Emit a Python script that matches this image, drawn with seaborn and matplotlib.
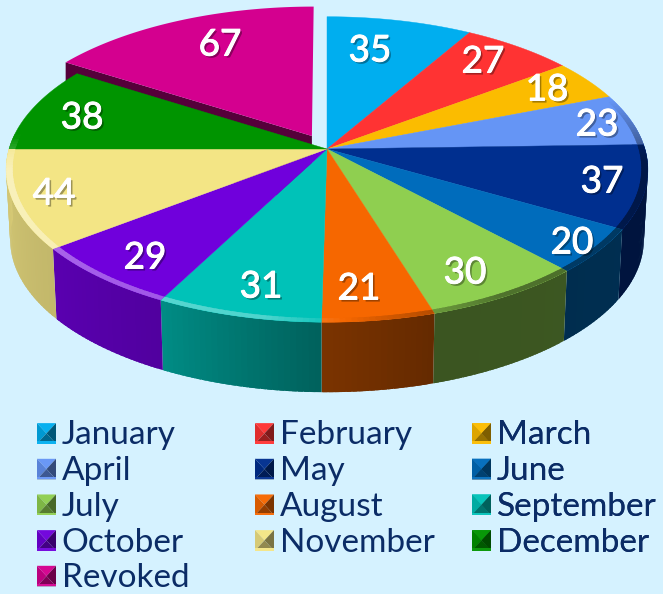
import numpy as np
import matplotlib
matplotlib.use("Agg")
import matplotlib.pyplot as plt
import matplotlib.patheffects as pe
from matplotlib.colors import to_rgb
from matplotlib.legend_handler import HandlerBase
from matplotlib.patches import Patch, Polygon
import seaborn as sns

months = ["January", "February", "March", "April", "May", "June", "July",
          "August", "September", "October", "November", "December", "Revoked"]
counts = [35, 27, 18, 23, 37, 20, 30, 21, 31, 29, 44, 38, 67]
hex_colors = ["#00AEEF", "#FF3333", "#FBBC00", "#6595F5", "#002F8F", "#006CBC", "#8FCF50",
              "#F66700", "#00C2B8", "#7000DC", "#F3E585", "#009400", "#D4008F"]

# where the value labels sit
label_x = [370, 483, 547, 597, 602, 572, 465, 359, 261, 145, 54, 82, 220]
label_y = [51, 62, 90, 125, 182, 243, 273, 289, 287, 258, 194, 118, 45]

BG = "#D5F2FF"
TEXT = "#0B2C66"
CX, CY = 327, 149
A, B, K = 318, 150, 0.134
DEPTH = 70
EXPLODE = 0.1

sns.set_theme(style="white", rc={"axes.facecolor": BG, "figure.facecolor": BG})
plt.rcParams["font.family"] = ["Lato", "DejaVu Sans"]
palette = sns.color_palette(hex_colors)


def project(theta, r=1.0, offset=0.0, mid=0.0, low=False):
    t = np.radians(theta)
    m = np.radians(mid)
    u = r * np.sin(t) + offset * np.sin(m)
    v = r * np.cos(t) + offset * np.cos(m)
    w = 1 + K * v
    if low:
        return CX + (A - 4) * u / w, CY + DEPTH + B * -v / w
    return CX + A * u / w, CY - B * v / w


def shade(color, f):
    # f>0 goes to white, f<0 to black
    c = np.array(to_rgb(color))
    if f >= 0:
        return tuple(c + (1 - c) * f)
    return tuple(c * (1 + f))


def side_light(theta):
    return np.interp(theta, [85, 137, 163, 181, 207, 232, 270],
                     [.45, .42, .41, .5, .72, .8, .88])


def rim_light(theta):
    return np.interp(theta, [70, 95, 150, 172, 190, 262, 275],
                     [0, -.5, -.45, -.12, .3, .45, 0])


class PyramidHandler(HandlerBase):
    def create_artists(self, legend, orig, xd, yd, width, height, fontsize, trans):
        c = orig.get_facecolor()
        x0, y0 = -xd, -yd - 0.02 * fontsize
        x1, y1 = x0 + width, y0 + height
        mx, my = (x0 + x1) / 2, (y0 + y1) / 2
        lip = height * 0.12
        parts = [
            ([(x0, y1), (x1, y1), (mx, my)], shade(c, 0.03)),
            ([(x0, y0), (x0, y1), (mx, my)], shade(c, -0.12)),
            ([(x1, y0), (x1, y1), (mx, my)], shade(c, -0.5)),
            ([(x0, y0), (x1, y0), (mx, my)], shade(c, -0.4)),
            ([(x0, y0), (x1, y0), (x1, y0 + lip), (x0, y0 + lip)], shade(c, 0.05)),
        ]
        return [Polygon(p, closed=True, facecolor=col, edgecolor="none", transform=trans)
                for p, col in parts]


fig = plt.figure(figsize=(6.63, 5.94), dpi=100)
ax = fig.add_axes([0, 0, 1, 1])
ax.set_xlim(0, 663)
ax.set_ylim(594, 0)
ax.axis("off")

edges = np.cumsum([0] + counts) / sum(counts) * 360

# pulled-out slice goes first, everything else covers it
t0, t1 = edges[-2], edges[-1]
mid = (t0 + t1) / 2
ax_, ay_ = project(0, 0, EXPLODE, mid)
ex, ey = project(t0, 1, EXPLODE, mid)
ax.fill([ex, ax_, ax_, ex], [ey, ay_, ay_ + DEPTH, ey + DEPTH], color="#55003A", lw=0)
ts = np.linspace(t0, t1, 80)
px, py = project(ts, 1, EXPLODE, mid)
ax.fill(np.r_[ax_, px], np.r_[ay_, py], color=palette[-1], lw=0)

# outer wall, each strip overlaps the next so no seams show
for i in range(12):
    lo, hi = max(edges[i], 80), min(edges[i + 1], 270)
    if hi <= lo:
        continue
    steps = np.linspace(lo, hi, int(hi - lo) + 2)
    for a, b in zip(steps[:-1], steps[1:]):
        bb = min(b + 0.8, hi)
        xa, ya = project(a)
        xb, yb = project(bb)
        xc, yc = project(bb, low=True)
        xd, yd = project(a, low=True)
        col = shade(palette[i], side_light((a + b) / 2) - 1)
        ax.fill([xa, xb, xc, xd], [ya, yb, yc, yd], facecolor=col, lw=0)

# top face
for i in range(12):
    ts = np.linspace(edges[i], edges[i + 1], 60)
    px, py = project(ts)
    ax.fill(np.r_[CX, px], np.r_[CY, py], facecolor=palette[i], edgecolor=palette[i], lw=0.3)

# bevel round the edge of the top
for i in range(12):
    lo, hi = edges[i], edges[i + 1]
    steps = np.linspace(lo, hi, int(hi - lo) + 2)
    for a, b in zip(steps[:-1], steps[1:]):
        f = rim_light((a + b) / 2)
        if f == 0:
            continue
        bb = min(b + 0.8, hi)
        xa, ya = project(a)
        xb, yb = project(bb)
        xc, yc = project(bb, 0.98)
        xd, yd = project(a, 0.98)
        ax.fill([xa, xb, xc, xd], [ya, yb, yc, yd], facecolor=shade(palette[i], f), lw=0)

shadow = [pe.SimplePatchShadow(offset=(1.5, -1.5), shadow_rgbFace="black", alpha=0.35),
          pe.withStroke(linewidth=0.7, foreground="white"),
          pe.Normal()]
for x, y, n in zip(label_x, label_y, counts):
    ax.text(x, y, str(n), color="white", fontsize=26.5, ha="center", va="center",
            path_effects=shadow)

# three separate one-column legends, the columns are evenly spaced in the original
handles = [Patch(facecolor=c, label=m) for c, m in zip(palette, months)]
col_x = [37, 255, 472]
for j, x in enumerate(col_x):
    group = handles[j::3]
    if j == 0:
        group = handles[0:12:3] + [handles[12]]
    leg = ax.legend(handles=group, loc="upper left", bbox_to_anchor=(x, 420.5),
                    bbox_transform=ax.transData, frameon=False, fontsize=24,
                    labelcolor=TEXT, handler_map={Patch: PyramidHandler()},
                    handlelength=0.57, handleheight=0.57, handletextpad=0.17,
                    labelspacing=0.17, borderpad=0, borderaxespad=0)
    ax.add_artist(leg)

fig.savefig("out.png", dpi=100, facecolor=BG)
